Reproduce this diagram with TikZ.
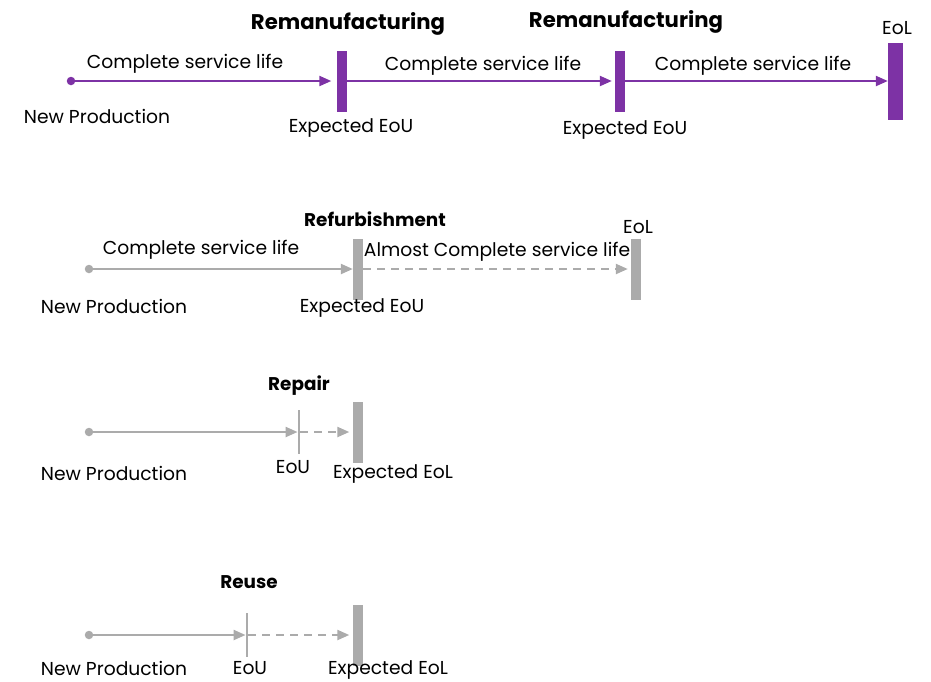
\documentclass[tikz,border=0pt]{standalone}
\usepackage{fontspec}
\setmainfont{Poppins}
\usetikzlibrary{arrows.meta}
\definecolor{pur}{RGB}{125,50,165}
\definecolor{gr}{RGB}{171,171,171}
\begin{document}
\begin{tikzpicture}[x=1pt,y=-1pt,
  lbl/.style={font=\fontsize{18.7}{22}\selectfont, inner sep=0pt, text=black, yshift=-2pt},
  ttl/.style={font=\fontsize{21.2}{24}\selectfont\bfseries, inner sep=0pt, yshift=-2pt},
  sttl/.style={font=\fontsize{18.4}{22}\selectfont\bfseries, inner sep=0pt, yshift=-1.5pt},
  pbar/.style={rectangle, fill=pur, draw=none, inner sep=0pt, minimum width=10pt, minimum height=61pt},
  gbar/.style={rectangle, fill=gr, draw=none, inner sep=0pt, minimum width=10pt, minimum height=61pt},
  gtick/.style={rectangle, fill=gr, draw=none, inner sep=0pt, minimum width=2.5pt, minimum height=44pt},
  pdot/.style={circle, fill=pur, draw=none, inner sep=0pt, minimum size=8.5pt},
  gdot/.style={circle, fill=gr, draw=none, inner sep=0pt, minimum size=8.5pt},
  parr/.style={draw=pur, line width=2.2pt, -{Triangle[length=12pt,width=10pt]}},
  garr/.style={draw=gr, line width=2.2pt, -{Triangle[length=12pt,width=10pt]}},
  gdash/.style={garr, dash pattern=on 8pt off 6pt}]
\useasboundingbox (0,0) rectangle (931,681);

% Row 1: Remanufacturing
\node[pdot] (d1) at (71,81) {};
\node[pbar] (b1a) at (341.5,81) {};
\node[pbar] (b1b) at (620,81) {};
\node[pbar, minimum width=15pt, minimum height=77pt] (b1c) at (895.5,81) {};
\draw[parr, shorten >=5pt] (d1.center) -- (b1a.west);
\draw[parr, shorten >=3pt] (b1a.east) -- (b1b.west);
\draw[parr] (b1b.east) -- (b1c.west);
\node[lbl] (l1a) at (185,62) {Complete service life};
\node[lbl] (l1b) at (483,64) {Complete service life};
\node[lbl] (l1c) at (753,64) {Complete service life};
\node[lbl] (np1) at (97,114) {New Production};
\node[lbl] (e1a) at (351,126) {Expected EoU};
\node[lbl] (e1b) at (625,128) {Expected EoU};
\node[ttl] (t1a) at (348,22) {Remanufacturing};
\node[ttl] (t1b) at (626,20) {Remanufacturing};
\node[lbl] (eol1) at (897,26) {EoL};

% Row 2: Refurbishment
\node[gdot] (d2) at (89,269) {};
\node[gbar] (b2a) at (358,269) {};
\node[gbar] (b2b) at (636,269) {};
\draw[garr] (d2.center) -- (b2a.west);
\draw[gdash, shorten >=3pt] (b2a.east) -- (b2b.west);
\node[sttl] (t2) at (375,218) {Refurbishment};
\node[lbl] (l2a) at (201,248) {Complete service life};
\node[lbl] (l2b) at (497,250) {Almost Complete service life};
\node[lbl] (eol2) at (638,225) {EoL};
\node[lbl] (np2) at (114,304) {New Production};
\node[lbl] (e2) at (362,306) {Expected EoU};

% Row 3: Repair
\node[gdot] (d3) at (89,432) {};
\node[gtick] (k3) at (299,432) {};
\node[gbar] (b3) at (357.5,432) {};
\draw[garr] (d3.center) -- (k3.west);
\draw[gdash, shorten >=3pt] (k3.east) -- (b3.west);
\node[sttl] (t3) at (299,384) {Repair};
\node[lbl] (np3) at (114,471) {New Production};
\node[lbl] (eou3) at (293,465) {EoU};
\node[lbl] (e3) at (393,472) {Expected EoL};

% Row 4: Reuse
\node[gdot] (d4) at (89,635) {};
\node[gtick] (k4) at (247,635) {};
\node[gbar] (b4) at (357.5,635) {};
\draw[garr] (d4.center) -- (k4.west);
\draw[gdash, shorten >=3pt] (k4.east) -- (b4.west);
\node[sttl] (t4) at (249,581) {Reuse};
\node[lbl] (np4) at (114,666.5) {New Production};
\node[lbl] (eou4) at (250,666.5) {EoU};
\node[lbl] (e4) at (388,667.5) {Expected EoL};
\end{tikzpicture}
\end{document}
